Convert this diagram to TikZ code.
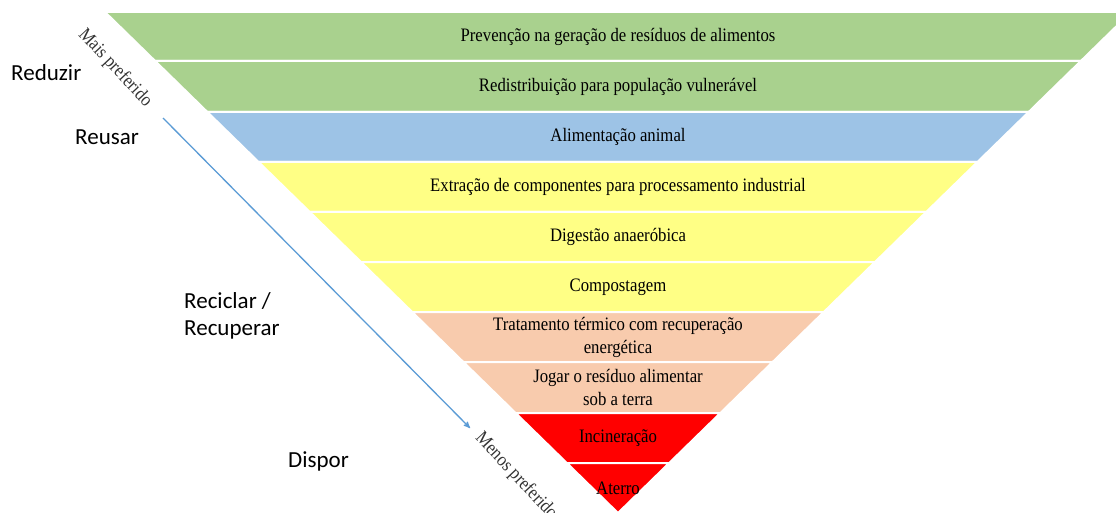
\documentclass[tikz,border=0pt]{standalone}
\usepackage{fontspec}
\setmainfont{Liberation Serif}
\newfontfamily\bandfont[FakeStretch=0.88]{Liberation Serif}
\newfontfamily\labelfont{Carlito}
\usetikzlibrary{arrows}

\definecolor{bandgreen}{HTML}{A9D18E}
\definecolor{bandblue}{HTML}{9DC3E6}
\definecolor{bandyellow}{HTML}{FFFF85}
\definecolor{bandpeach}{HTML}{F8CBAD}
\definecolor{bandred}{HTML}{FF0000}
\definecolor{arrowblue}{HTML}{5B9BD5}
\definecolor{prefgray}{HTML}{333333}

\tikzset{
  bandtext/.style={font=\bandfont\fontsize{19}{23}\selectfont, align=center, inner sep=0pt},
  sidelabel/.style={font=\labelfont\fontsize{23}{27}\selectfont, align=left, anchor=base west, inner sep=0pt},
  preflabel/.style={font=\bandfont\fontsize{19}{20}\selectfont, text=prefgray, rotate=-47, inner sep=0pt}
}

\begin{document}
\begin{tikzpicture}[x=1pt,y=-1pt]
  \clip (0,0) rectangle (1116,513);
  \useasboundingbox (0,0) rectangle (1116,513);
  % bands of the inverted pyramid
  \foreach \yt/\yb/\col/\txt [count=\i] in {
      12/61/bandgreen/{Prevenção na geração de resíduos de alimentos},
      61/112/bandgreen/{Redistribuição para população vulnerável},
      112/162/bandblue/{Alimentação animal},
      162/212/bandyellow/{Extração de componentes para processamento industrial},
      212/262/bandyellow/{Digestão anaeróbica},
      262/312/bandyellow/{Compostagem},
      312/362/bandpeach/{Tratamento térmico com recuperação\\energética},
      362/413/bandpeach/{Jogar o resíduo alimentar\\sob a terra},
      413/463/bandred/{Incineração},
      463/513/bandred/{Aterro}} {
    \path[draw=white,line width=2pt,fill=\col]
      ({618-1.024*(513-\yt)},\yt)--({618+1.024*(513-\yt)},\yt)
      --({618+1.024*(513-\yb)},\yb)--({618-1.024*(513-\yb)},\yb)--cycle;
    \node[bandtext] (band\i) at (618,{(\yt+\yb)/2}) {\txt};
  };
  % left labels
  \node[sidelabel] (reduzir) at (11,81) {Reduzir};
  \node[sidelabel] (reusar) at (75,145) {Reusar};
  \node[sidelabel] (reciclar) at (184,335) {Reciclar /\\Recuperar};
  \node[sidelabel] (dispor) at (288,467) {Dispor};
  % preference arrow
  \node[preflabel] (mais) at (115,68) {Mais preferido};
  \node[preflabel] (menos) at (516,476) {Menos preferido};
  \coordinate (arrowstart) at (163,118);
  \coordinate (arrowend) at (470,428);
  \draw[arrowblue,line width=1.3pt,-stealth'] (arrowstart) -- (arrowend);
\end{tikzpicture}
\end{document}
